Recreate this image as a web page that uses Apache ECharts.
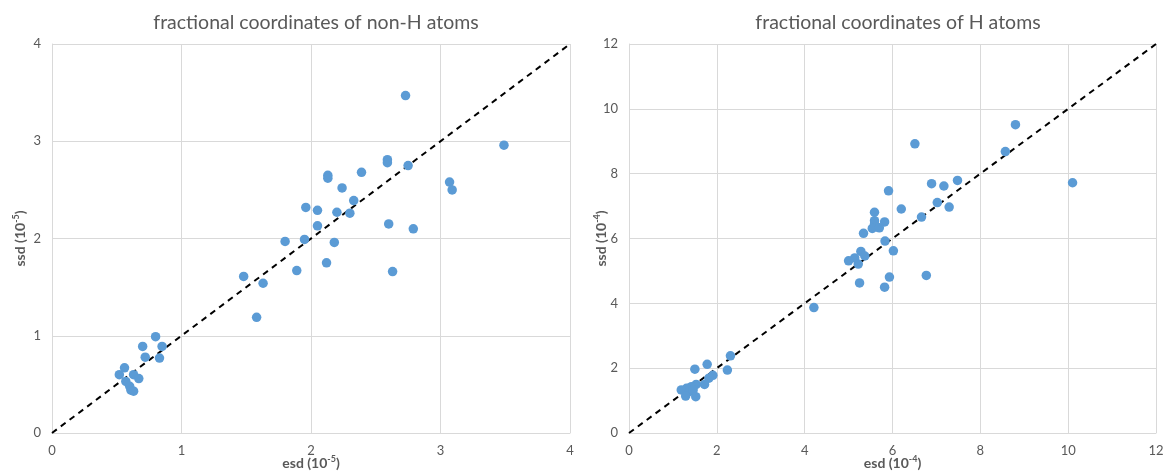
<!DOCTYPE html>
<html>
<head>
<meta charset="utf-8">
<script src="https://cdn.jsdelivr.net/npm/echarts@6/dist/echarts.min.js"></script>
<style>
    html, body {margin: 0; padding: 0; background: #fff}
    #chart {width: 1164px; height: 473px}
</style>
</head>
<body>
<div id="chart"></div>
<script>
// non-H atoms, units of 10^-5
let heavyEsd = [2.73, 3.49, 2.59, 2.59, 2.75, 2.13, 2.13, 2.39, 2.24, 2.33, 1.96, 2.05, 2.20, 2.30, 3.07, 3.09,
    2.05, 2.60, 2.79, 1.80, 1.95, 2.18, 2.12, 1.89, 2.63, 1.48, 1.63, 1.58,
    0.80, 0.70, 0.85, 0.72, 0.83, 0.56, 0.52, 0.63, 0.67, 0.57, 0.60, 0.61, 0.63]
let heavySsd = [3.47, 2.96, 2.81, 2.78, 2.75, 2.65, 2.62, 2.68, 2.52, 2.39, 2.32, 2.29, 2.27, 2.26, 2.58, 2.50,
    2.13, 2.15, 2.10, 1.97, 1.99, 1.96, 1.75, 1.67, 1.66, 1.61, 1.54, 1.19,
    0.99, 0.89, 0.89, 0.78, 0.77, 0.67, 0.60, 0.60, 0.56, 0.53, 0.48, 0.44, 0.43]

// H atoms, units of 10^-4
let hydEsd = [6.51, 8.80, 8.57, 10.10, 7.48, 6.89, 7.17, 5.91, 7.02, 7.29, 6.20, 5.59, 6.66, 5.59, 5.82, 5.59,
    5.54, 5.70, 5.34, 5.83, 6.02, 5.28, 5.37, 5.14, 5.00, 5.22, 5.93, 6.77, 5.25, 5.82, 4.21,
    2.31, 1.78, 1.50, 2.24, 1.91, 1.82, 1.72, 1.53, 1.42, 1.31, 1.19, 1.38, 1.29, 1.52, 1.46]
let hydSsd = [8.92, 9.51, 8.68, 7.72, 7.79, 7.69, 7.62, 7.47, 7.11, 6.97, 6.91, 6.81, 6.66, 6.55, 6.51, 6.45,
    6.31, 6.33, 6.16, 5.92, 5.62, 5.60, 5.46, 5.40, 5.31, 5.21, 4.81, 4.86, 4.63, 4.50, 3.87,
    2.38, 2.12, 1.97, 1.94, 1.78, 1.69, 1.50, 1.50, 1.43, 1.38, 1.33, 1.28, 1.14, 1.12, 1.33]

let heavyDiag = [[0, 0], [4, 4]]
let hydDiag = [[0, 0], [12, 12]]

let titles = ['fractional coordinates of non-H atoms', 'fractional coordinates of H atoms']

let pair = function (xs, ys) {
    return xs.map((x, i) => [x, ys[i]])
}

let grey = '#595959'
let gridColor = '#d9d9d9'
let font = 'Lato, "Open Sans", sans-serif'

let nameStyle = {
    color: grey,
    fontSize: 14,
    fontWeight: 'bold',
    fontFamily: font,
    rich: {
        b: {color: grey, fontSize: 14, fontWeight: 'bold', fontFamily: font},
        sup: {color: grey, fontSize: 9, fontWeight: 'bold', fontFamily: font, verticalAlign: 'top', padding: [0, 0, 7, 0]}
    }
}

let makeAxis = function (idx, max, interval, name, gap) {
    return {
        type: 'value',
        gridIndex: idx,
        min: 0,
        max: max,
        interval: interval,
        name: name,
        nameLocation: 'middle',
        nameGap: gap,
        nameMoveOverlap: false,
        nameTextStyle: nameStyle,
        axisLine: {show: true, lineStyle: {color: gridColor, width: 1}},
        axisTick: {show: false},
        axisLabel: {color: grey, fontSize: 13, fontFamily: font, margin: 11},
        splitLine: {show: true, lineStyle: {color: gridColor, width: 1}}
    }
}

let dots = function (idx, data) {
    return {
        type: 'scatter',
        xAxisIndex: idx,
        yAxisIndex: idx,
        data: data,
        symbolSize: 9.5,
        itemStyle: {color: '#5b9bd5', opacity: 1},
        z: 3
    }
}

let diag = function (idx, data) {
    return {
        type: 'line',
        xAxisIndex: idx,
        yAxisIndex: idx,
        data: data,
        symbol: 'none',
        silent: true,
        lineStyle: {color: '#000', width: 2, type: [6, 5]},
        z: 2
    }
}

let chart = echarts.init(document.getElementById('chart'))
let option = {
    animation: false,
    title: [
        {text: titles[0], left: 311, top: 8, textAlign: 'center',
            textStyle: {color: grey, fontSize: 19.5, fontWeight: 'normal', fontFamily: font}},
        {text: titles[1], left: 893, top: 8, textAlign: 'center',
            textStyle: {color: grey, fontSize: 19.5, fontWeight: 'normal', fontFamily: font}}
    ],
    grid: [
        {left: 52, right: 594, top: 44, bottom: 40, outerBoundsMode: 'none'},
        {left: 629, right: 8, top: 44, bottom: 40, outerBoundsMode: 'none'}
    ],
    xAxis: [
        makeAxis(0, 4, 1, '{b|esd (10}{sup|-5}{b|)}', 22),
        makeAxis(1, 12, 2, '{b|esd (10}{sup|-4}{b|)}', 22)
    ],
    yAxis: [
        makeAxis(0, 4, 1, '{b|ssd (10}{sup|-5}{b|)}', 24),
        makeAxis(1, 12, 2, '{b|ssd (10}{sup|-4}{b|)}', 20)
    ],
    series: [
        diag(0, heavyDiag),
        diag(1, hydDiag),
        dots(0, pair(heavyEsd, heavySsd)),
        dots(1, pair(hydEsd, hydSsd))
    ]
}
chart.setOption(option)
</script>
</body>
</html>
